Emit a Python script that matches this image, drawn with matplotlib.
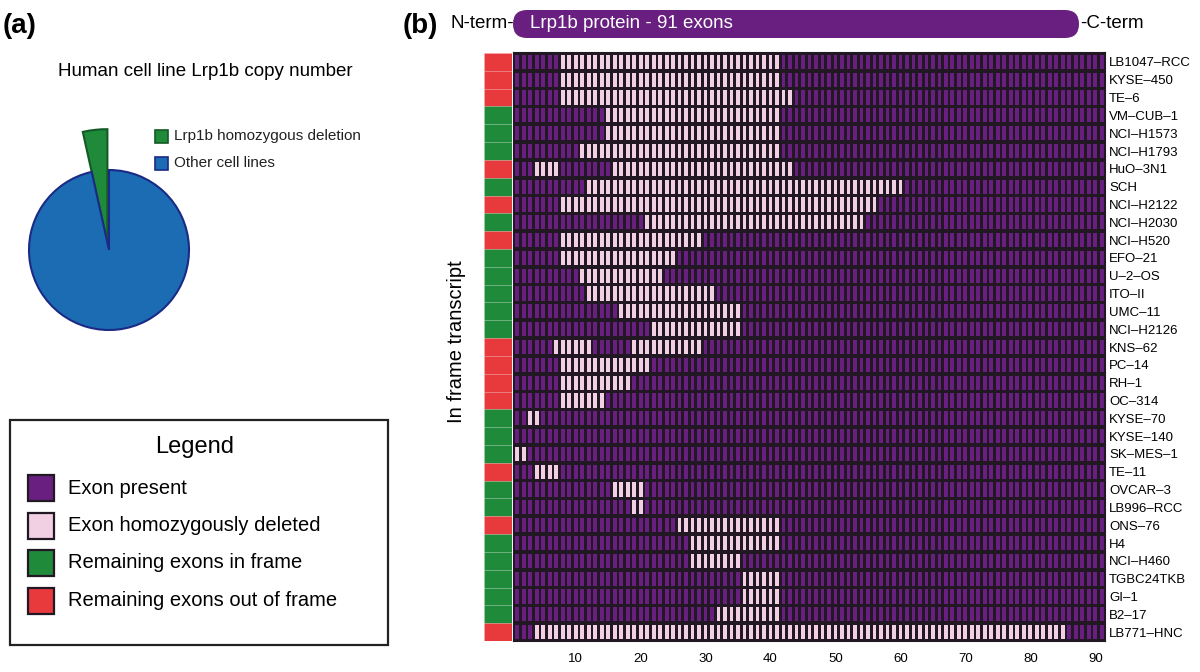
import numpy as np
import matplotlib.pyplot as plt
from matplotlib.patches import Rectangle, FancyBboxPatch

plt.rcParams['font.family'] = ['Liberation Sans', 'DejaVu Sans']
narrow = ['Liberation Sans Narrow', 'Liberation Sans', 'DejaVu Sans']

# cell lines, top to bottom
cell_lines = ['LB1047-RCC', 'KYSE-450', 'TE-6', 'VM-CUB-1', 'NCI-H1573',
              'NCI-H1793', 'HuO-3N1', 'SCH', 'NCI-H2122', 'NCI-H2030',
              'NCI-H520', 'EFO-21', 'U-2-OS', 'ITO-II', 'UMC-11', 'NCI-H2126',
              'KNS-62', 'PC-14', 'RH-1', 'OC-314', 'KYSE-70', 'KYSE-140',
              'SK-MES-1', 'TE-11', 'OVCAR-3', 'LB996-RCC', 'ONS-76', 'H4',
              'NCI-H460', 'TGBC24TKB', 'GI-1', 'B2-17', 'LB771-HNC']
# 1 = remaining exons in frame, 0 = out of frame
in_frame = [0, 0, 0, 1, 1, 1, 0, 1, 0, 1, 0, 1, 1, 1, 1, 1, 0, 0, 0, 0,
            1, 1, 1, 0, 1, 1, 0, 1, 1, 1, 1, 1, 0]
# homozygously deleted exon ranges (first, last) per cell line
deleted = [[(8, 41)], [(8, 41)], [(8, 43)], [(15, 41)], [(15, 41)],
           [(11, 41)], [(4, 7), (16, 43)], [(12, 60)], [(8, 56)], [(21, 54)],
           [(8, 29)], [(8, 25)], [(11, 23)], [(12, 31)], [(17, 35)],
           [(22, 35)], [(7, 12), (19, 29)], [(8, 21)], [(8, 18)], [(8, 14)],
           [(3, 4)], [], [(1, 2)], [(4, 7)], [(16, 20)], [(19, 20)],
           [(26, 41)], [(28, 41)], [(28, 35)], [(36, 41)], [(36, 41)],
           [(32, 41)], [(4, 85)]]
n_exons = 91
exon_ticks = list(range(10, 91, 10))

pie_labels = ['Lrp1b homozygous deletion', 'Other cell lines']
pie_counts = [33, 917]

legend_labels = ['Exon present', 'Exon homozygously deleted',
                 'Remaining exons in frame', 'Remaining exons out of frame']

purple = '#681f80'
pink = '#f1d0e4'
dark = '#211823'
green = '#1f8a3a'
red = '#e8393d'
blue = '#1c6cb4'

fig = plt.figure(figsize=(12, 6.72), dpi=100)

# heatmap
ax = fig.add_axes([514 / 1200, 1 - 641 / 672, 591 / 1200, 588 / 672])
ax.set_facecolor(dark)
exons = np.arange(1, n_exons + 1)
for r, ranges in enumerate(deleted):
    status = np.zeros(n_exons, dtype=bool)
    for a, b in ranges:
        status[a - 1:b] = True
    cols = [pink if s else purple for s in status]
    ax.bar(exons, 0.80, bottom=r - 0.40, width=0.58, color=cols, linewidth=0)
ax.set_xlim(0.5, n_exons + 0.5)
ax.set_ylim(len(cell_lines) - 0.5, -0.5)
ax.yaxis.tick_right()
ax.set_yticks(range(len(cell_lines)))
ax.set_yticklabels([c.replace('-', '\u2013') for c in cell_lines],
                   fontsize=9.5)
ax.set_xticks(exon_ticks)
ax.set_xticklabels([str(t) for t in exon_ticks], fontsize=9.5)
ax.tick_params(axis='both', length=0)
ax.tick_params(axis='x', pad=9)
ax.tick_params(axis='y', pad=3)
for s in ax.spines.values():
    s.set_color(dark)
    s.set_linewidth(1.5)

# frame status side bar
ax_s = fig.add_axes([484 / 1200, 1 - 641 / 672, 28 / 1200, 588 / 672])
ax_s.barh(range(len(cell_lines)), 1, height=1,
          color=[green if f else red for f in in_frame],
          edgecolor=(1, 1, 1, 0.12), linewidth=0.6)
ax_s.set_xlim(0, 1)
ax_s.set_ylim(len(cell_lines) - 0.5, -0.5)
ax_s.axis('off')

# pie
lim = 1.6
box = 256
ax_p = fig.add_axes([(109 - box / 2) / 1200, 1 - (250 + box / 2) / 672,
                     box / 1200, box / 672])
wedges, _ = ax_p.pie(pie_counts, colors=[green, blue], startangle=90,
                     counterclock=True,
                     wedgeprops=dict(linewidth=1.5))
wedges[0].set_edgecolor('#135a26')
wedges[1].set_edgecolor('#1b2a84')
wedges[0].set_radius(1.42)
wedges[0].set_center((-0.02, 0.09))
ax_p.set_xlim(-lim, lim)
ax_p.set_ylim(-lim, lim)
ax_p.set_aspect('equal')
ax_p.axis('off')

# annotations in pixel coordinates
ov = fig.add_axes([0, 0, 1, 1])
ov.set_xlim(0, 1200)
ov.set_ylim(672, 0)
ov.axis('off')

ov.text(3, 26, '(a)', fontsize=20, fontweight='bold', va='center', ha='left')
ov.text(205, 72, 'Human cell line Lrp1b copy number', fontsize=13.5,
        ha='center', va='center')
for i, (lab, c, ec) in enumerate(zip(pie_labels, [green, blue],
                                     ['#135a26', '#1b2a84'])):
    y = 136 + i * 27
    ov.add_patch(Rectangle((155, y - 6.5), 13, 13, facecolor=c, edgecolor=ec,
                           linewidth=1.2))
    ov.text(174, y, lab, fontsize=11, va='center', ha='left', color='#222222')

# legend box
ov.add_patch(Rectangle((10, 420), 378, 225, facecolor='white',
                       edgecolor='#222222', linewidth=1.6))
ov.text(195, 447, 'Legend', fontsize=17, ha='center', va='center')
for i, (lab, c) in enumerate(zip(legend_labels, [purple, pink, green, red])):
    y = 488 + i * 37.5
    ov.add_patch(Rectangle((28, y - 13), 26, 26, facecolor=c, edgecolor=dark,
                           linewidth=1.6))
    ov.text(68, y, lab, fontsize=14.5, va='center', ha='left')

# panel b header
ov.text(403, 26, '(b)', fontsize=20, fontweight='bold', va='center', ha='left')
ov.add_patch(FancyBboxPatch((513, 10), 566, 28,
                            boxstyle='round,pad=0,rounding_size=14',
                            facecolor=purple, edgecolor='none'))
ov.text(514, 24, 'N-term-', fontsize=13.5, family=narrow, ha='right',
        va='center')
ov.text(530, 24, 'Lrp1b protein - 91 exons', fontsize=13.5, family=narrow,
        color='white', ha='left', va='center')
ov.text(1080, 24, '-C-term', fontsize=13.5, family=narrow, ha='left',
        va='center')
ov.text(457, 342, 'In frame transcript', fontsize=14.5, rotation=90,
        ha='center', va='center')

fig.savefig('out.png', dpi=100)
